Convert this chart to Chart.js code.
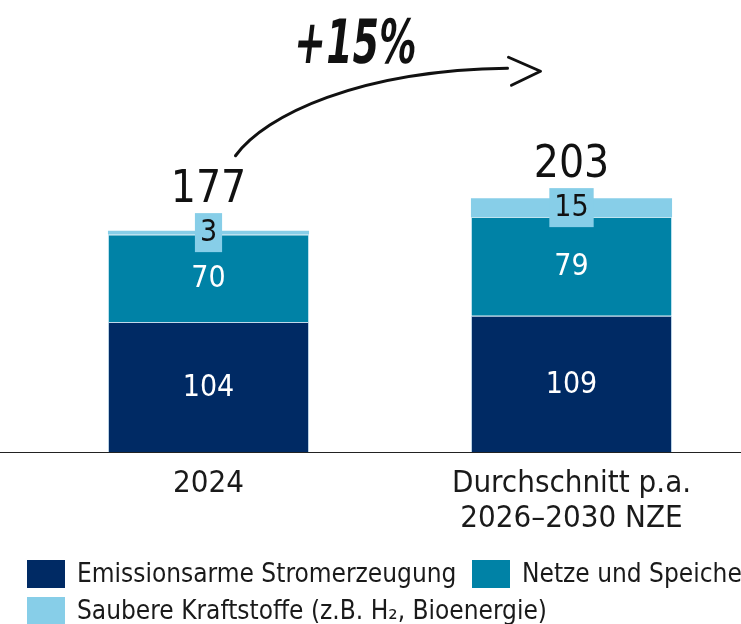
<!DOCTYPE html>
<html>
<head>
<meta charset="utf-8">
<script src="https://cdn.jsdelivr.net/npm/chart.js@4/dist/chart.umd.min.js"></script>
<style>
  html, body { margin: 0; padding: 0; background: #fff; overflow: hidden; }
  /* canvas a bit wider than the window: the right edge is cut like in the original */
  #wrap { width: 753px; height: 624px; }
</style>
</head>
<body>
<div id="wrap"><canvas id="invChart"></canvas></div>
<script>
// categories and series
const categories = ["2024", ["Durchschnitt p.a.", "2026–2030 NZE"]];
const seriesNames = [
    "Emissionsarme Stromerzeugung",
    "Netze und Speicher",
    "Saubere Kraftstoffe (z.B. H₂, Bioenergie)",
];
const stromValues = [104, 109];
const netzeValues = [70, 79];
const kraftValues = [3, 15];
const seriesColors = ["#002a64", "#0082a6", "#87cee8"];

const FONT = "'DejaVu Sans Condensed', 'DejaVu Sans', sans-serif";

const totals = categories.map((c, i) => stromValues[i] + netzeValues[i] + kraftValues[i]);

// white / boxed labels inside the segments, totals on top
const labelPlugin = {
    id: "labelPlugin",
    afterDatasetsDraw: (chart) => {
        const ctx = chart.ctx;
        ctx.save();
        ctx.textAlign = "center";
        ctx.textBaseline = "middle";
        ctx.font = "30px " + FONT;
        chart.data.datasets.forEach((ds, di) => {
            const meta = chart.getDatasetMeta(di);
            meta.data.forEach((bar, i) => {
                const cy = (bar.y + bar.base) / 2;
                const txt = String(ds.data[i]);
                if (di < 2) {
                    ctx.fillStyle = "#ffffff";
                    ctx.fillText(txt, bar.x, cy + 1);
                } else {
                    const w = ctx.measureText(txt).width + 10;
                    ctx.fillStyle = seriesColors[2];
                    ctx.fillRect(bar.x - w / 2, cy - 19.5, w, 39);
                    ctx.fillStyle = "#111";
                    ctx.fillText(txt, bar.x, cy + 1);
                    // total above
                    ctx.save();
                    ctx.font = "44px " + FONT;
                    ctx.textBaseline = "alphabetic";
                    ctx.fillText(String(totals[i]), bar.x, cy - 31);
                    ctx.restore();
                }
            });
        });
        ctx.restore();
    },
    afterDraw: (chart) => {
        const ctx = chart.ctx;
        const x = chart.scales.x;
        const y = chart.scales.y;
        // baseline across the full width
        const y0 = Math.round(y.getPixelForValue(0)) + 0.5;
        ctx.save();
        ctx.strokeStyle = "#222";
        ctx.lineWidth = 1.2;
        ctx.beginPath();
        ctx.moveTo(0, y0);
        ctx.lineTo(chart.width, y0);
        ctx.stroke();

        // growth arrow
        const x0 = x.getPixelForValue(0);
        const x1 = x.getPixelForValue(1);
        const t0 = y.getPixelForValue(totals[0]);
        const t1 = y.getPixelForValue(totals[1]);
        ctx.strokeStyle = "#111";
        ctx.lineWidth = 3;
        ctx.lineCap = "round";
        ctx.lineJoin = "round";
        ctx.beginPath();
        ctx.moveTo(x0 + 27, t0 - 75);
        ctx.bezierCurveTo(x0 + 57, t0 - 116, x1 - 212, t1 - 128, x1 - 64, t1 - 130);
        ctx.stroke();
        ctx.beginPath();
        ctx.moveTo(x1 - 63, t1 - 141);
        ctx.lineTo(x1 - 31, t1 - 127);
        ctx.lineTo(x1 - 60, t1 - 113);
        ctx.stroke();

        const pct = Math.round((totals[1] / totals[0] - 1) * 100);
        ctx.fillStyle = "#111";
        ctx.textAlign = "center";
        ctx.textBaseline = "alphabetic";
        ctx.translate(353, 63);
        ctx.transform(1, 0, -0.12, 1, 0, 0);
        ctx.scale(1, 1.45);
        ctx.font = "bold 42px " + FONT;
        ctx.fillText("+" + pct + "%", 0, 0);
        ctx.restore();

        // legend
        ctx.save();
        ctx.font = "26px " + FONT;
        ctx.textBaseline = "middle";
        ctx.textAlign = "left";
        const spots = [[27, 574], [472, 574], [27, 611]];
        seriesNames.forEach((name, i) => {
            const [lx, ly] = spots[i];
            ctx.fillStyle = seriesColors[i];
            ctx.fillRect(lx, ly - 14, 38, 28);
            ctx.fillStyle = "#1a1a1a";
            ctx.fillText(name, lx + 50, ly + 1);
        });
        ctx.restore();
    },
};

const ctxInv = document.getElementById("invChart").getContext("2d");

const invChart = new Chart(ctxInv, {
    type: "bar",
    data: {
        labels: categories,
        datasets: [
            {
                label: seriesNames[0],
                data: stromValues,
                backgroundColor: seriesColors[0],
                borderColor: "rgba(150,190,220,0.6)",
                borderWidth: { top: 1, left: 1, right: 1, bottom: 0 },
                borderSkipped: false,
            },
            {
                label: seriesNames[1],
                data: netzeValues,
                backgroundColor: seriesColors[1],
                borderColor: "rgba(150,210,230,0.6)",
                borderWidth: { top: 1, left: 1, right: 1, bottom: 0 },
                borderSkipped: false,
            },
            {
                label: seriesNames[2],
                data: kraftValues,
                backgroundColor: seriesColors[2],
                borderWidth: 0,
            },
        ],
    },
    options: {
        responsive: true,
        maintainAspectRatio: false,
        animation: false,
        devicePixelRatio: 1,
        layout: {
            padding: { top: 102, left: 27, right: 0, bottom: 72 },
        },
        datasets: {
            bar: {
                barPercentage: 0.554,
                categoryPercentage: 1,
            },
        },
        plugins: {
            legend: { display: false },
            tooltip: { enabled: false },
        },
        scales: {
            x: {
                stacked: true,
                grid: { display: false, drawTicks: false },
                border: { display: false },
                ticks: {
                    color: "#1a1a1a",
                    padding: 14,
                    font: { family: FONT, size: 31, lineHeight: 1.13 },
                    maxRotation: 0,
                },
                afterFit: (scale) => {
                    scale.height = 100;
                },
            },
            y: {
                stacked: true,
                display: false,
                min: 0,
                max: 280,
            },
        },
    },
    plugins: [labelPlugin],
});
</script>
</body>
</html>
